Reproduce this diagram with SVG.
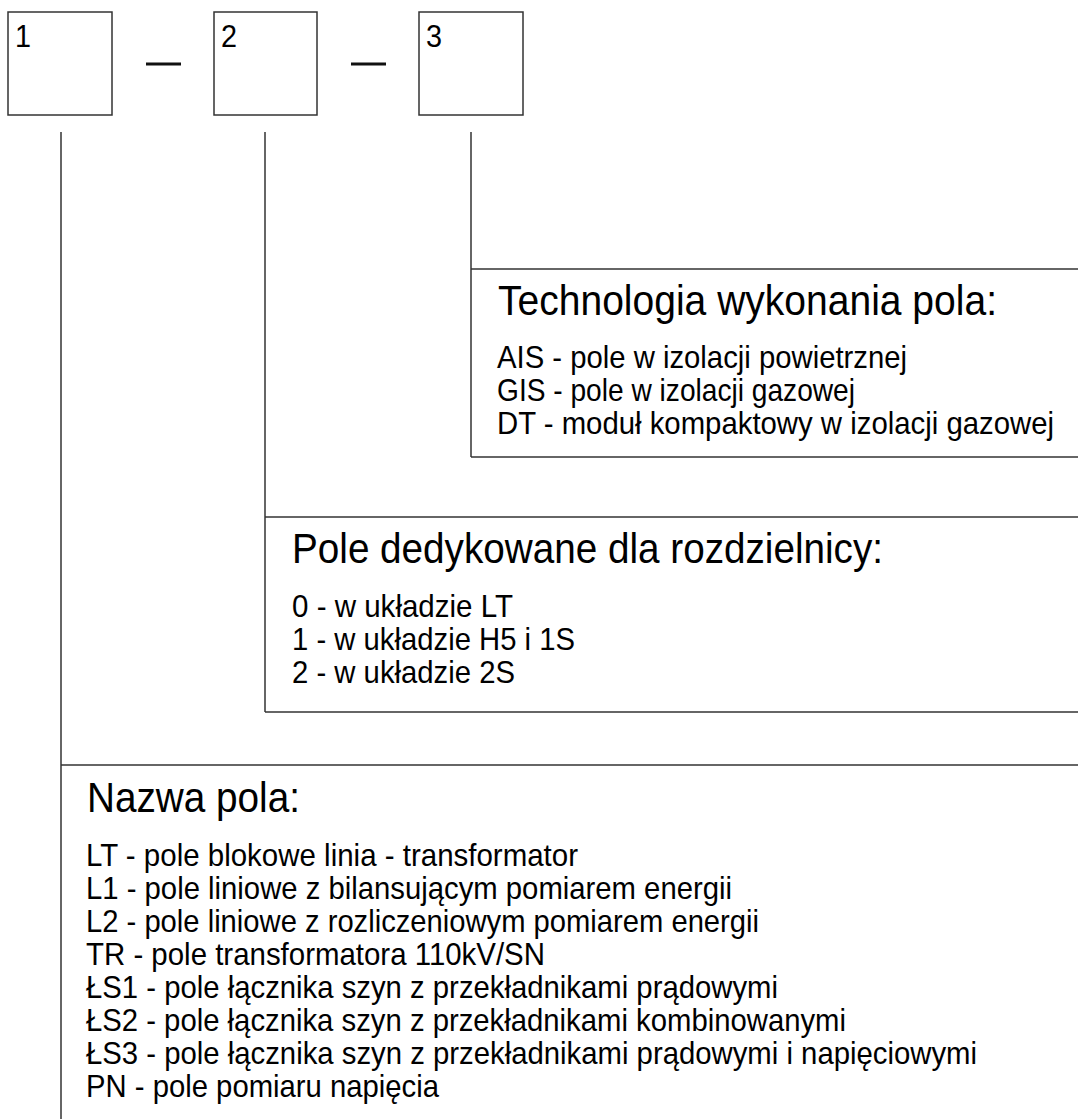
<svg xmlns="http://www.w3.org/2000/svg" width="1078" height="1119" viewBox="0 0 1078 1119">
<style>
.box{fill:#fff;stroke:#333;stroke-width:1.5}
.ln{stroke:#333;stroke-width:1.5;fill:none}
.dash{stroke:#111;stroke-width:3}
text{font-family:"Liberation Sans",Arial,sans-serif;fill:#000}
.num{font-size:32px}
.title{font-size:42px}
.item{font-size:32px}
</style>
<rect width="1078" height="1119" fill="#fff"/>
<g id="box1"><rect class="box" x="8" y="12" width="104" height="103"/><text class="num" x="15" y="47" textLength="16" lengthAdjust="spacingAndGlyphs">1</text></g>
<g id="box2"><rect class="box" x="214" y="12" width="103" height="103"/><text class="num" x="221" y="47" textLength="16" lengthAdjust="spacingAndGlyphs">2</text></g>
<g id="box3"><rect class="box" x="419" y="12" width="104" height="103"/><text class="num" x="426" y="47" textLength="16" lengthAdjust="spacingAndGlyphs">3</text></g>
<g id="dashes"><line class="dash" x1="146" y1="64" x2="181" y2="64"/><line class="dash" x1="351" y1="64" x2="386" y2="64"/></g>
<g id="connectors">
<line class="ln" x1="61" y1="132" x2="61" y2="1119"/>
<line class="ln" x1="265" y1="132" x2="265" y2="712"/>
<line class="ln" x1="471" y1="132" x2="471" y2="457"/>
</g>
<g id="technologia">
<line class="ln" x1="471" y1="269" x2="1078" y2="269"/>
<line class="ln" x1="471" y1="457" x2="1078" y2="457"/>
<text class="title" x="498" y="315" textLength="499" lengthAdjust="spacingAndGlyphs">Technologia wykonania pola:</text>
<text class="item" x="497" y="368" textLength="410" lengthAdjust="spacingAndGlyphs">AIS - pole w izolacji powietrznej</text>
<text class="item" x="497" y="401" textLength="358" lengthAdjust="spacingAndGlyphs">GIS - pole w izolacji gazowej</text>
<text class="item" x="497" y="434" textLength="557" lengthAdjust="spacingAndGlyphs">DT - moduł kompaktowy w izolacji gazowej</text>
</g>
<g id="rozdzielnica">
<line class="ln" x1="265" y1="517" x2="1078" y2="517"/>
<line class="ln" x1="265" y1="712" x2="1078" y2="712"/>
<text class="title" x="292" y="563" textLength="591" lengthAdjust="spacingAndGlyphs">Pole dedykowane dla rozdzielnicy:</text>
<text class="item" x="292" y="617" textLength="221" lengthAdjust="spacingAndGlyphs">0 - w układzie LT</text>
<text class="item" x="292" y="650" textLength="283" lengthAdjust="spacingAndGlyphs">1 - w układzie H5 i 1S</text>
<text class="item" x="292" y="683" textLength="223" lengthAdjust="spacingAndGlyphs">2 - w układzie 2S</text>
</g>
<g id="nazwa">
<line class="ln" x1="61" y1="765" x2="1078" y2="765"/>
<text class="title" x="87" y="812" textLength="213" lengthAdjust="spacingAndGlyphs">Nazwa pola:</text>
<text class="item" x="86" y="866" textLength="492" lengthAdjust="spacingAndGlyphs">LT - pole blokowe linia - transformator</text>
<text class="item" x="86" y="899" textLength="646" lengthAdjust="spacingAndGlyphs">L1 - pole liniowe z bilansującym pomiarem energii</text>
<text class="item" x="86" y="932" textLength="673" lengthAdjust="spacingAndGlyphs">L2 - pole liniowe z rozliczeniowym pomiarem energii</text>
<text class="item" x="86" y="965" textLength="459" lengthAdjust="spacingAndGlyphs">TR - pole transformatora 110kV/SN</text>
<text class="item" x="86" y="998" textLength="692" lengthAdjust="spacingAndGlyphs">ŁS1 - pole łącznika szyn z przekładnikami prądowymi</text>
<text class="item" x="86" y="1031" textLength="760" lengthAdjust="spacingAndGlyphs">ŁS2 - pole łącznika szyn z przekładnikami kombinowanymi</text>
<text class="item" x="86" y="1064" textLength="891" lengthAdjust="spacingAndGlyphs">ŁS3 - pole łącznika szyn z przekładnikami prądowymi i napięciowymi</text>
<text class="item" x="86" y="1097" textLength="353" lengthAdjust="spacingAndGlyphs">PN - pole pomiaru napięcia</text>
</g>
</svg>
